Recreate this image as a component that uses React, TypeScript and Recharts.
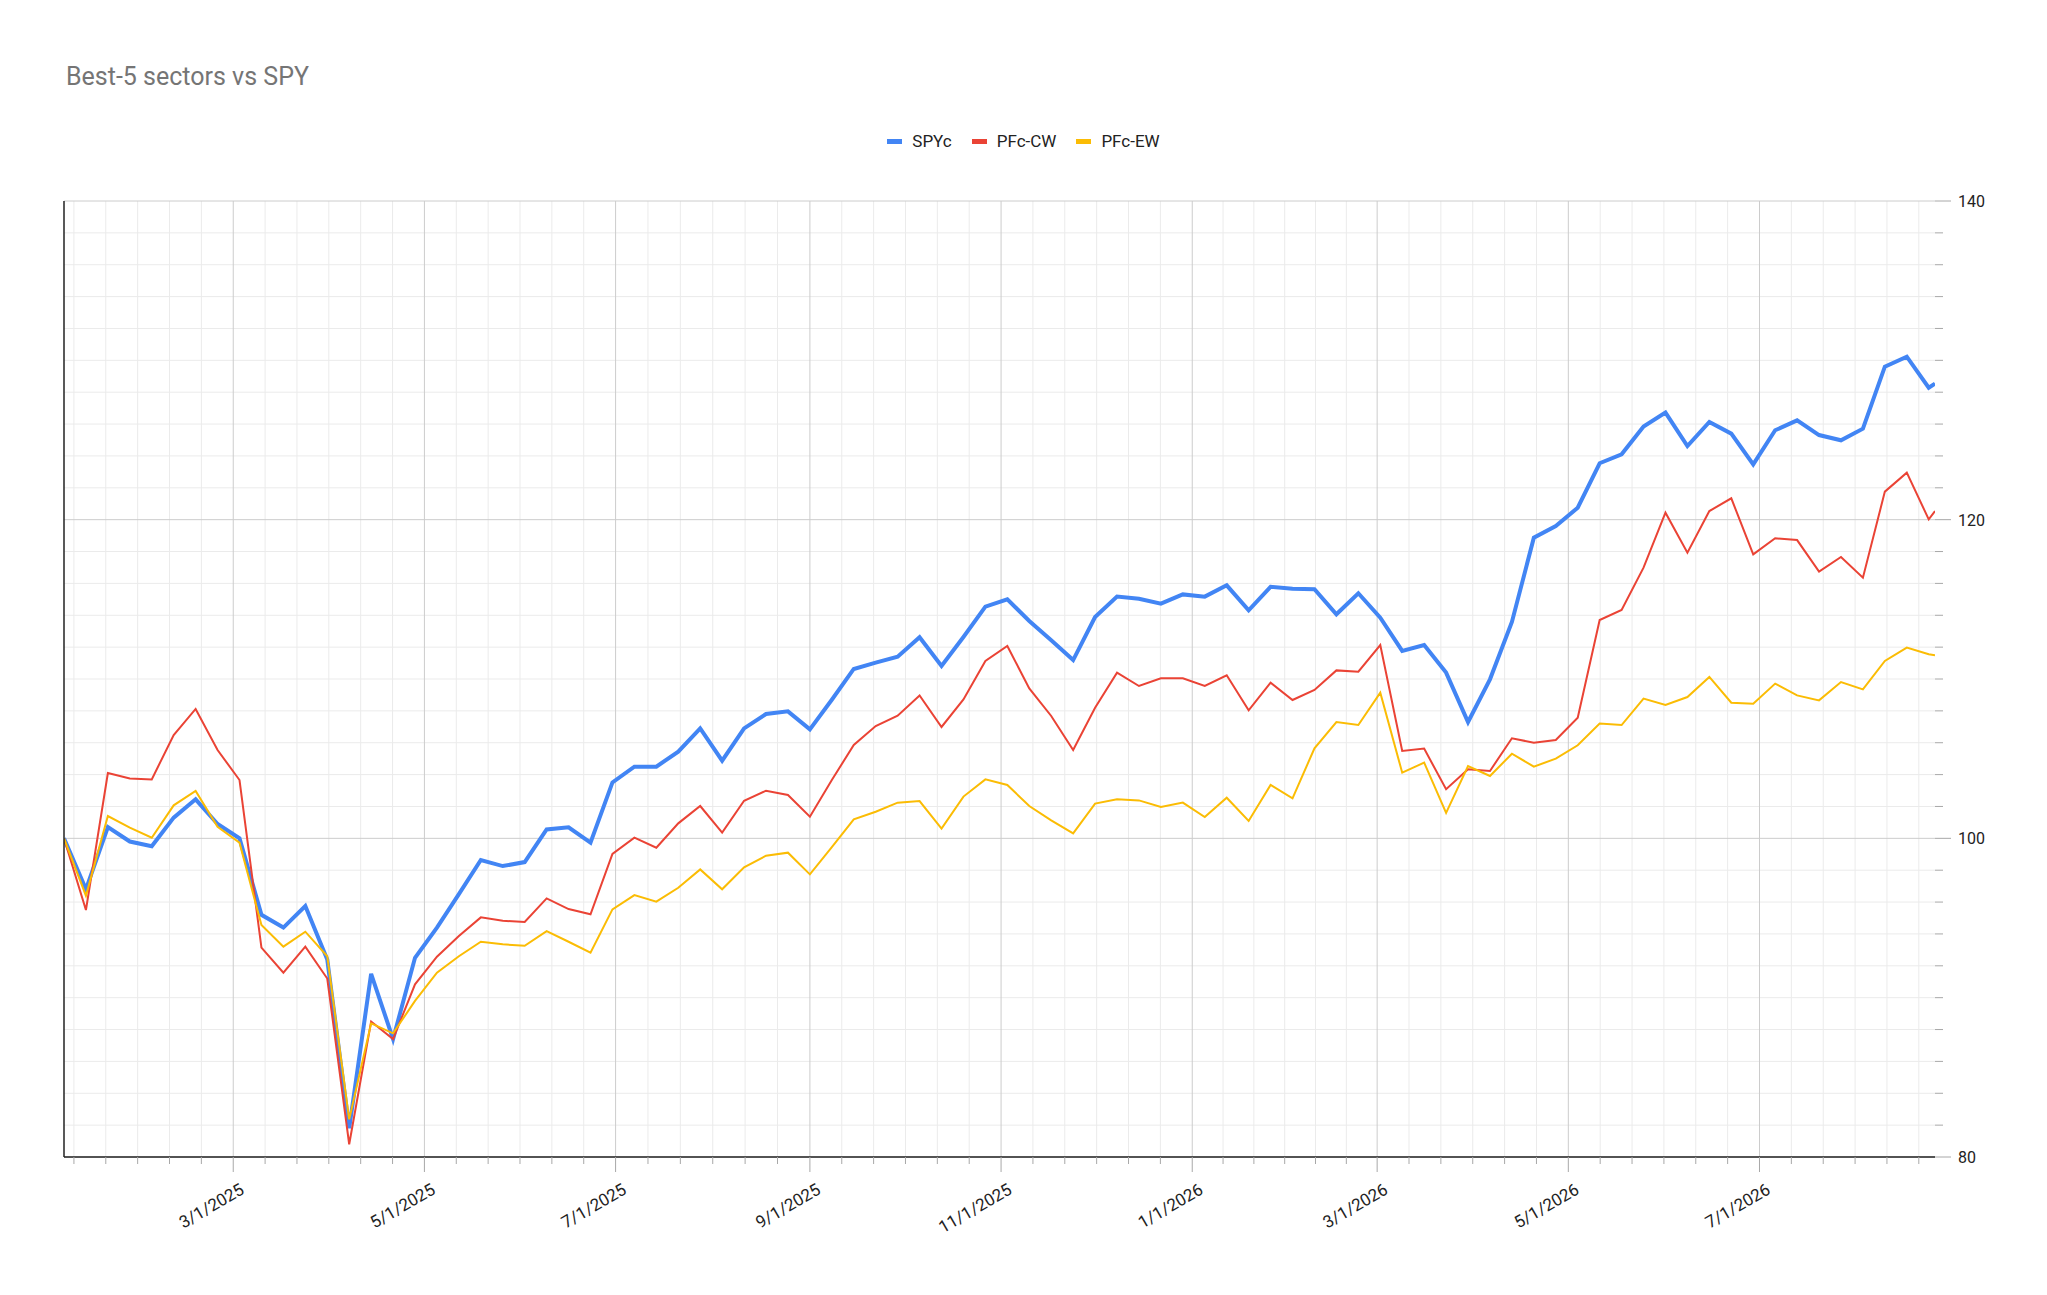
// Best-5 sectors vs SPY: weekly index levels (base 100) for SPY and two sector portfolios.
import { CartesianGrid, Line, LineChart, XAxis, YAxis } from "recharts";

const DATES = [
  "2025-01-06", "2025-01-13", "2025-01-20", "2025-01-27", "2025-02-03", "2025-02-10",
  "2025-02-17", "2025-02-24", "2025-03-03", "2025-03-10", "2025-03-17", "2025-03-24",
  "2025-03-31", "2025-04-07", "2025-04-14", "2025-04-21", "2025-04-28", "2025-05-05",
  "2025-05-12", "2025-05-19", "2025-05-26", "2025-06-02", "2025-06-09", "2025-06-16",
  "2025-06-23", "2025-06-30", "2025-07-07", "2025-07-14", "2025-07-21", "2025-07-28",
  "2025-08-04", "2025-08-11", "2025-08-18", "2025-08-25", "2025-09-01", "2025-09-08",
  "2025-09-15", "2025-09-22", "2025-09-29", "2025-10-06", "2025-10-13", "2025-10-20",
  "2025-10-27", "2025-11-03", "2025-11-10", "2025-11-17", "2025-11-24", "2025-12-01",
  "2025-12-08", "2025-12-15", "2025-12-22", "2025-12-29", "2026-01-05", "2026-01-12",
  "2026-01-19", "2026-01-26", "2026-02-02", "2026-02-09", "2026-02-16", "2026-02-23",
  "2026-03-02", "2026-03-09", "2026-03-16", "2026-03-23", "2026-03-30", "2026-04-06",
  "2026-04-13", "2026-04-20", "2026-04-27", "2026-05-04", "2026-05-11", "2026-05-18",
  "2026-05-25", "2026-06-01", "2026-06-08", "2026-06-15", "2026-06-22", "2026-06-29",
  "2026-07-06", "2026-07-13", "2026-07-20", "2026-07-27", "2026-08-03", "2026-08-10",
  "2026-08-17", "2026-08-24", "2026-08-26",
];

const SPYC = [
  100, 96.8, 100.7, 99.8, 99.5, 101.3, 102.45, 100.9, 100.0, 95.2, 94.4, 95.75,
  92.4, 81.8, 91.5, 87.4, 92.5, 94.4, 96.5, 98.64, 98.26, 98.51, 100.56, 100.69,
  99.73, 103.51, 104.5, 104.5, 105.44, 106.9, 104.87, 106.9, 107.8, 107.97, 106.84, 108.7,
  110.63, 111.03, 111.4, 112.62, 110.82, 112.64, 114.54, 115.0, 113.64, 112.43, 111.19, 113.89,
  115.17, 115.04, 114.73, 115.31, 115.17, 115.88, 114.31, 115.79, 115.67, 115.63, 114.06, 115.38,
  113.85, 111.76, 112.13, 110.4, 107.3, 109.98, 113.58, 118.87, 119.6, 120.75, 123.54, 124.1,
  125.84, 126.72, 124.62, 126.13, 125.4, 123.47, 125.61, 126.23, 125.31, 124.98, 125.71, 129.6,
  130.23, 128.28, 128.54,
];

const PFC_CW = [
  100, 95.5, 104.1, 103.75, 103.7, 106.48, 108.12, 105.54, 103.66, 93.14, 91.57, 93.2,
  91.2, 80.8, 88.5, 87.4, 90.84, 92.57, 93.87, 95.04, 94.83, 94.75, 96.23, 95.56,
  95.23, 99.02, 100.04, 99.41, 100.94, 102.03, 100.36, 102.36, 102.99, 102.72, 101.36, 103.66,
  105.86, 107.05, 107.7, 108.97, 106.99, 108.72, 111.13, 112.07, 109.41, 107.68, 105.54, 108.2,
  110.4, 109.56, 110.04, 110.04, 109.56, 110.23, 108.03, 109.77, 108.68, 109.31, 110.54, 110.46,
  112.13, 105.48, 105.63, 103.08, 104.33, 104.23, 106.28, 106.0, 106.17, 107.57, 113.7, 114.33,
  116.99, 120.44, 117.93, 120.54, 121.34, 117.82, 118.83, 118.72, 116.74, 117.66, 116.36, 121.76,
  122.95, 120.02, 120.54,
];

const PFC_EW = [
  100, 96.4, 101.4, 100.67, 100.04, 102.07, 102.97, 100.73, 99.73, 94.56, 93.2, 94.14,
  92.6, 82.36, 88.39, 87.76, 89.8, 91.57, 92.6, 93.51, 93.35, 93.26, 94.18, 93.51,
  92.82, 95.54, 96.44, 96.03, 96.9, 98.05, 96.8, 98.18, 98.91, 99.1, 97.74, 99.45,
  101.19, 101.67, 102.24, 102.34, 100.61, 102.62, 103.7, 103.35, 102.03, 101.13, 100.31, 102.18,
  102.45, 102.38, 101.97, 102.24, 101.34, 102.55, 101.09, 103.35, 102.51, 105.65, 107.3, 107.11,
  109.14, 104.12, 104.75, 101.6, 104.54, 103.91, 105.31, 104.5, 105.0, 105.84, 107.2, 107.11,
  108.77, 108.37, 108.87, 110.13, 108.51, 108.45, 109.71, 108.97, 108.66, 109.81, 109.35, 111.13,
  111.97, 111.55, 111.49,
];

// labelled date ticks (every second month)
const X_MAJOR_DATES = [
  "2025-03-01", "2025-05-01", "2025-07-01", "2025-09-01", "2025-11-01",
  "2026-01-01", "2026-03-01", "2026-05-01", "2026-07-01",
];

const Y_TICKS = [
  80, 82, 84, 86, 88, 90, 92, 94, 96, 98, 100, 102, 104, 106, 108, 110,
  112, 114, 116, 118, 120, 122, 124, 126, 128, 130, 132, 134, 136, 138, 140,
];
const Y_MAJOR = [80, 100, 120, 140];

const SERIES = [
  { key: "spy", name: "SPYc", color: "#4285f4", width: 4 },
  { key: "cw", name: "PFc-CW", color: "#ea4335", width: 2 },
  { key: "ew", name: "PFc-EW", color: "#fbbc04", width: 2 },
];

const FONT = "Roboto, 'Noto Sans', sans-serif";

const rows = DATES.map((d, i) => ({
  t: Date.parse(d),
  spy: SPYC[i],
  cw: PFC_CW[i],
  ew: PFC_EW[i],
}));

const tStart = rows[0].t;
const tEnd = rows[rows.length - 1].t;
const xMajor = X_MAJOR_DATES.map((d) => Date.parse(d));

// minor gridlines: each labelled interval split in six, extended past both ends
const xMinor: number[] = [];
for (let i = 0; i < xMajor.length - 1; i++) {
  const step = (xMajor[i + 1] - xMajor[i]) / 6;
  for (let k = 1; k < 6; k++) xMinor.push(xMajor[i] + step * k);
}
{
  const first = (xMajor[1] - xMajor[0]) / 6;
  const last = (xMajor[xMajor.length - 1] - xMajor[xMajor.length - 2]) / 6;
  for (let k = 1; k < 6; k++) {
    const a = xMajor[0] - first * k;
    const b = xMajor[xMajor.length - 1] + last * k;
    if (a >= tStart) xMinor.push(a);
    if (b <= tEnd) xMinor.push(b);
  }
}
const xTicks = [...xMajor, ...xMinor].sort((a, b) => a - b);
const yMinor = Y_TICKS.filter((v) => !Y_MAJOR.includes(v));

function fmtDate(t: number) {
  const d = new Date(t);
  return `${d.getUTCMonth() + 1}/${d.getUTCDate()}/${d.getUTCFullYear()}`;
}

function XTick(props: any) {
  const { x, y, payload } = props;
  const major = xMajor.includes(payload.value);
  const ax = x + 12;
  const ay = y + 36;
  return (
    <g>
      <line x1={x} x2={x} y1={y} y2={y + (major ? 15 : 7)} stroke="#a8a8a8" strokeWidth={1} />
      {major ? (
        <text
          x={ax}
          y={ay}
          textAnchor="end"
          transform={`rotate(-30 ${ax} ${ay})`}
          fontSize={17}
          fontFamily={FONT}
          fill="#222"
        >
          {fmtDate(payload.value)}
        </text>
      ) : null}
    </g>
  );
}

function YTick(props: any) {
  const { x, y, payload } = props;
  const major = Y_MAJOR.includes(payload.value);
  return (
    <g>
      <line x1={x} x2={x + (major ? 16 : 8)} y1={y} y2={y} stroke="#a8a8a8" strokeWidth={1} />
      {major ? (
        <text x={x + 23} y={y + 6} textAnchor="start" fontSize={16} fontFamily={FONT} fill="#222">
          {payload.value}
        </text>
      ) : null}
    </g>
  );
}

export default function App() {
  return (
    <div style={{ position: "relative", width: 2047, height: 1295, fontFamily: FONT, background: "#fff" }}>
      <style>{"body{margin:0}"}</style>
      <div
        style={{
          position: "absolute",
          left: 66,
          top: 64,
          fontSize: 25,
          lineHeight: "25px",
          color: "#757575",
          whiteSpace: "nowrap",
        }}
      >
        Best-5 sectors vs SPY
      </div>
      <div
        style={{
          position: "absolute",
          left: 0,
          top: 133,
          width: 2047,
          height: 17,
          display: "flex",
          justifyContent: "center",
          alignItems: "center",
          fontSize: 17,
          lineHeight: "17px",
          color: "#222",
        }}
      >
        {SERIES.map((s, i) => (
          <div key={s.key} style={{ display: "flex", alignItems: "center", marginLeft: i ? 20 : 0 }}>
            <span style={{ display: "inline-block", width: 15, height: 5, background: s.color, marginRight: 10 }} />
            <span>{s.name}</span>
          </div>
        ))}
      </div>
      <LineChart width={2047} height={1295} data={rows} margin={{ top: 201, right: 32, bottom: 58, left: 63 }}>
        <CartesianGrid stroke="#ebebeb" horizontalValues={yMinor} verticalValues={xMinor} />
        <CartesianGrid stroke="#cccccc" horizontalValues={Y_MAJOR} verticalValues={xMajor} />
        <XAxis
          dataKey="t"
          type="number"
          scale="linear"
          domain={[tStart, tEnd]}
          allowDataOverflow
          ticks={xTicks}
          interval={0}
          tickLine={false}
          tickSize={0}
          tickMargin={0}
          height={80}
          axisLine={{ stroke: "#222", strokeWidth: 1.5 }}
          tick={(p: any) => <XTick {...p} />}
        />
        <YAxis
          yAxisId="left"
          orientation="left"
          width={1}
          domain={[80, 140]}
          allowDataOverflow
          ticks={Y_MAJOR}
          tick={false}
          tickLine={false}
          axisLine={{ stroke: "#222", strokeWidth: 1.5 }}
        />
        <YAxis
          orientation="right"
          domain={[80, 140]}
          allowDataOverflow
          ticks={Y_TICKS}
          interval={0}
          tickLine={false}
          tickSize={0}
          tickMargin={0}
          width={80}
          axisLine={false}
          tick={(p: any) => <YTick {...p} />}
        />
        {SERIES.map((s) => (
          <Line
            key={s.key}
            yAxisId="left"
            type="linear"
            dataKey={s.key}
            name={s.name}
            stroke={s.color}
            strokeWidth={s.width}
            dot={false}
            activeDot={false}
            isAnimationActive={false}
          />
        ))}
      </LineChart>
    </div>
  );
}
